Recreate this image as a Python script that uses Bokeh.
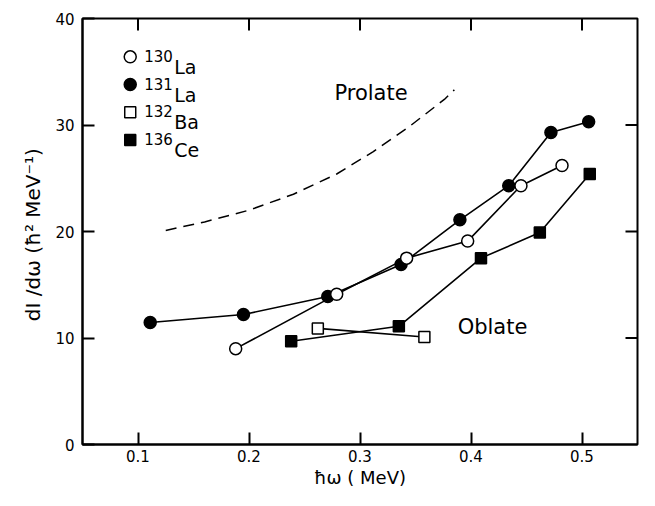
import math
from bokeh.plotting import figure
from bokeh.models import LinearAxis, Range1d, FixedTicker
from bokeh.embed import file_html
from bokeh.resources import INLINE
from bokeh.core.properties import value

# ---- data ----
la130_x = [0.188, 0.279, 0.342, 0.397, 0.445, 0.482]
la130_y = [9.0, 14.1, 17.5, 19.1, 24.3, 26.2]
la131_x = [0.111, 0.195, 0.271, 0.337, 0.390, 0.434, 0.472, 0.506]
la131_y = [11.45, 12.2, 13.9, 16.9, 21.1, 24.3, 29.3, 30.3]
ba132_x = [0.262, 0.358]
ba132_y = [10.9, 10.1]
ce136_x = [0.238, 0.335, 0.409, 0.462, 0.507]
ce136_y = [9.7, 11.1, 17.5, 19.9, 25.4]
prolate_x = [0.125, 0.16, 0.20, 0.24, 0.279, 0.312, 0.345, 0.376, 0.385]
prolate_y = [20.1, 20.9, 22.0, 23.5, 25.4, 27.5, 29.9, 32.4, 33.3]
x_ticks = [0.1, 0.2, 0.3, 0.4, 0.5]
y_ticks = [0, 10, 20, 30, 40]
legend_mass = ["130", "131", "132", "136"]
legend_elem = ["La", "La", "Ba", "Ce"]

X_MIN, X_MAX = 0.05, 0.55
Y_MIN, Y_MAX = 0, 40
FONT = "DejaVu Sans"

p = figure(width=639, height=490, x_range=Range1d(X_MIN, X_MAX), y_range=Range1d(Y_MIN, Y_MAX),
           output_backend="svg", toolbar_location=None,
           min_border_left=82, min_border_right=2, min_border_top=18, min_border_bottom=36,
           x_axis_type=None, y_axis_type=None)
p.grid.visible = False
p.outline_line_color = "black"
p.outline_line_width = 2
p.background_fill_color = "white"
p.border_fill_color = "white"


def style_axis(ax, ticks):
    ax.ticker = FixedTicker(ticks=ticks)
    ax.axis_line_width = 2
    ax.axis_line_color = "black"
    ax.major_tick_in = 12
    ax.major_tick_out = 0
    ax.major_tick_line_width = 2
    ax.major_tick_line_color = "black"
    ax.minor_tick_line_color = None
    ax.major_label_text_font = FONT
    ax.axis_label_text_font = FONT
    ax.axis_label_text_font_style = "normal"
    ax.major_label_text_color = "black"
    ax.axis_label_text_color = "black"
    ax.major_label_text_font_size = "15px"
    ax.axis_label_text_font_size = "18px"


xb = LinearAxis(axis_label="ħω ( MeV)")
style_axis(xb, x_ticks)
xb.major_label_standoff = 5
xb.axis_label_standoff = 2
xb.major_label_overrides = {t: f"{t:.1f}" for t in x_ticks}
p.add_layout(xb, "below")

yl = LinearAxis(axis_label="dI /dω  (ħ² MeV⁻¹)")
style_axis(yl, y_ticks)
yl.major_label_standoff = 8
yl.axis_label_standoff = 7
yl.axis_label_text_font_size = "20px"
p.add_layout(yl, "left")

# inward ticks on the top and right frame edges
p.ray(x=x_ticks, y=[Y_MAX] * len(x_ticks), length=12, length_units="screen",
      angle=-math.pi / 2, line_color="black", line_width=2)
inner_y = [t for t in y_ticks if Y_MIN < t < Y_MAX]
p.ray(x=[X_MAX] * len(inner_y), y=inner_y, length=12, length_units="screen",
      angle=math.pi, line_color="black", line_width=2)

# dashed prolate reference curve
p.line(prolate_x, prolate_y, line_color="black", line_width=1.5, line_dash="11 7")

LW = 1.6
p.line(la131_x, la131_y, line_color="black", line_width=LW)
p.line(la130_x, la130_y, line_color="black", line_width=LW)
p.line(ba132_x, ba132_y, line_color="black", line_width=LW)
p.line(ce136_x, ce136_y, line_color="black", line_width=LW)

p.scatter(la131_x, la131_y, marker="circle", size=12, fill_color="black", line_color="black", line_width=1.5)
p.scatter(la130_x, la130_y, marker="circle", size=12, fill_color="white", line_color="black", line_width=1.5)
p.scatter(ba132_x, ba132_y, marker="square", size=11, fill_color="white", line_color="black", line_width=1.5)
p.scatter(ce136_x, ce136_y, marker="square", size=11, fill_color="black", line_color="black", line_width=1.5)

# legend
leg_x = 0.093
leg_y0 = 36.4
leg_dy = 2.6
leg_ys = [leg_y0 - i * leg_dy for i in range(4)]
markers = ["circle", "circle", "square", "square"]
fills = ["white", "black", "white", "black"]
sizes = [12, 12, 11, 11]
for yy, m, f, s in zip(leg_ys, markers, fills, sizes):
    p.scatter([leg_x], [yy], marker=m, size=s, fill_color=f, line_color="black", line_width=1.5)
p.text(x=[leg_x] * 4, y=leg_ys, text=legend_mass, x_offset=14, y_offset=-1,
       text_font=value(FONT), text_font_size=value("15px"), text_baseline="alphabetic",
       text_color="black")
p.text(x=[leg_x] * 4, y=leg_ys, text=legend_elem, x_offset=44, y_offset=10,
       text_font=value(FONT), text_font_size=value("19px"), text_baseline="alphabetic",
       text_color="black")

p.text(x=[0.277], y=[33.0], text=["Prolate"], text_font=value(FONT),
       text_font_size=value("21px"), text_baseline="alphabetic", text_color="black")
p.text(x=[0.388], y=[11.0], text=["Oblate"], text_font=value(FONT),
       text_font_size=value("21px"), text_baseline="alphabetic", text_color="black")

open("out.html", "w").write(file_html(p, INLINE))
